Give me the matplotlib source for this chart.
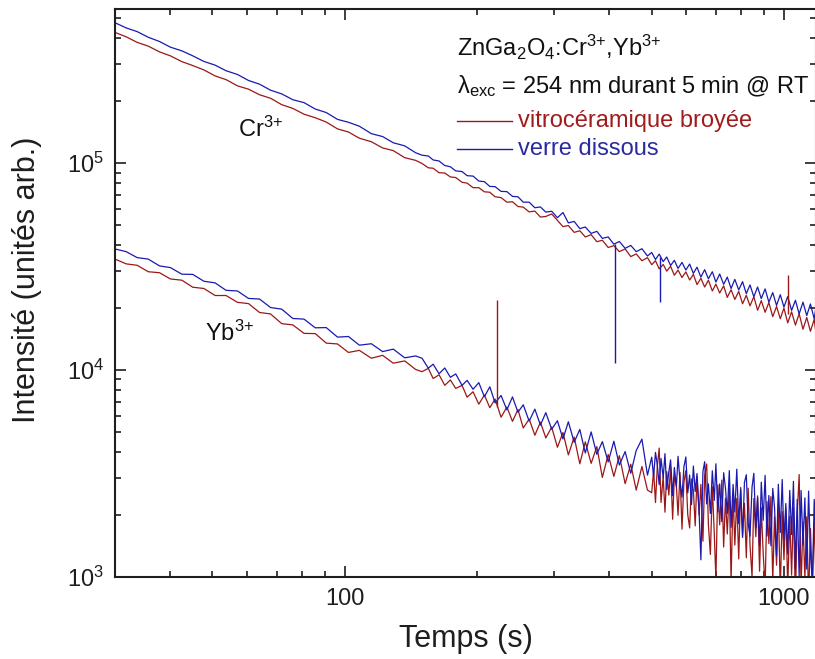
import numpy as np
import matplotlib
matplotlib.use("Agg")
import matplotlib.pyplot as plt
from matplotlib.ticker import FixedLocator, NullFormatter, LogLocator, LogFormatterMathtext

plt.rcParams['font.family'] = ['Liberation Sans', 'DejaVu Sans']
plt.rcParams['mathtext.fontset'] = 'custom'
plt.rcParams['mathtext.rm'] = 'Liberation Sans'
plt.rcParams['mathtext.it'] = 'Liberation Sans:italic'
plt.rcParams['mathtext.bf'] = 'Liberation Sans:bold'

# ---- data: time in s; intensity stored as log10 (arb. units) ----
time_early_s = [30, 31.8, 33.7, 35.7, 37.9, 40.1, 42.6, 45.1, 47.8, 50.7, 53.7, 57, 60.4, 64, 67.8, 71.9, 76.2,
                80.8, 85.7, 90.8, 96.3, 102, 108, 115, 122, 129, 137, 145,
                150, 155, 159, 164, 169, 174, 179, 185, 190, 196, 202, 208, 214, 220, 227, 234, 241, 248, 255,
                263, 271, 279, 287, 296, 305, 314, 323, 333, 343, 353, 364, 375, 386, 398, 410, 422, 435, 448,
                461, 475, 489]

time_late_cr_s = [500, 510, 520, 531, 541, 552, 563, 574, 586, 598, 610, 622, 634, 647, 660, 673, 687, 700, 714,
                  729, 743, 758, 773, 789, 805, 821, 837, 854, 871, 888, 906, 924, 943, 962, 981, 1000, 1020,
                  1041, 1062, 1083, 1105, 1127, 1149, 1172, 1183]

time_late_yb_s = [500, 505, 510, 515, 520, 525, 531, 536, 541, 547, 552, 558, 563, 569, 574, 580, 586, 592, 598,
                  604, 610, 616, 622, 628, 634, 641, 647, 654, 660, 667, 673, 680, 687, 694, 700, 707, 714, 722,
                  729, 736, 743, 751, 758, 766, 773, 781, 789, 797, 805, 813, 821, 829, 837, 846, 854, 863, 871,
                  880, 888, 897, 906, 915, 924, 934, 943, 952, 962, 971, 981, 991, 1000, 1010, 1020, 1031, 1041,
                  1051, 1062, 1072, 1083, 1094, 1105, 1116, 1127, 1138, 1149, 1161, 1172, 1183]

cr_red_log10 = [5.631, 5.610, 5.583, 5.565, 5.537, 5.518, 5.490, 5.471, 5.450, 5.421, 5.403, 5.373, 5.357, 5.330,
                5.313, 5.282, 5.264, 5.236, 5.219, 5.198, 5.165, 5.150, 5.120, 5.103, 5.073, 5.060, 5.026, 5.013,
                4.998, 4.977, 4.975, 4.953, 4.952, 4.933, 4.930, 4.907, 4.903, 4.881, 4.881, 4.861, 4.859, 4.837,
                4.833, 4.811, 4.813, 4.790, 4.787, 4.764, 4.768, 4.739, 4.742, 4.754, 4.723, 4.693, 4.698, 4.665,
                4.673, 4.643, 4.654, 4.620, 4.627, 4.592, 4.601, 4.572, 4.585, 4.548, 4.561, 4.528, 4.543,
                4.509, 4.528, 4.489, 4.510, 4.478, 4.501, 4.458, 4.483, 4.447, 4.474, 4.435, 4.462, 4.413, 4.443,
                4.401, 4.434, 4.382, 4.415, 4.372, 4.407, 4.351, 4.388, 4.341, 4.380, 4.320, 4.361, 4.310, 4.354,
                4.289, 4.335, 4.279, 4.326, 4.258, 4.307, 4.248, 4.299, 4.228, 4.281, 4.217, 4.272, 4.197, 4.254,
                4.187, 4.245, 4.178]

cr_blue_log10 = [5.678, 5.653, 5.635, 5.608, 5.587, 5.560, 5.542, 5.518, 5.491, 5.473, 5.446, 5.428, 5.399, 5.381,
                 5.352, 5.334, 5.306, 5.292, 5.261, 5.244, 5.211, 5.197, 5.178, 5.142, 5.128, 5.098, 5.083, 5.050,
                 5.038, 5.034, 5.015, 5.010, 4.988, 4.982, 4.962, 4.959, 4.939, 4.937, 4.913, 4.910, 4.887, 4.886,
                 4.863, 4.862, 4.839, 4.837, 4.811, 4.811, 4.784, 4.788, 4.763, 4.767, 4.736, 4.761, 4.711, 4.718,
                 4.683, 4.691, 4.660, 4.670, 4.636, 4.643, 4.608, 4.621, 4.588, 4.602, 4.572, 4.586, 4.551,
                 4.568, 4.534, 4.560, 4.524, 4.546, 4.505, 4.530, 4.491, 4.520, 4.483, 4.512, 4.467, 4.497, 4.449,
                 4.485, 4.441, 4.475, 4.425, 4.464, 4.414, 4.449, 4.394, 4.438, 4.387, 4.427, 4.369, 4.411, 4.354,
                 4.401, 4.345, 4.392, 4.328, 4.374, 4.312, 4.364, 4.304, 4.355, 4.288, 4.337, 4.271, 4.328, 4.263,
                 4.319, 4.247, 4.304]

yb_red_log10 = [4.536, 4.513, 4.506, 4.475, 4.470, 4.440, 4.434, 4.400, 4.394, 4.360, 4.360, 4.327, 4.321, 4.278,
                4.271, 4.224, 4.218, 4.177, 4.176, 4.130, 4.126, 4.085, 4.095, 4.057, 4.071, 4.033, 4.044, 4.003,
                3.992, 4.008, 3.959, 3.977, 3.926, 3.952, 3.911, 3.926, 3.869, 3.895, 3.835, 3.879, 3.818, 3.860,
                3.772, 3.821, 3.752, 3.809, 3.720, 3.763, 3.685, 3.748, 3.672, 3.724, 3.627, 3.698, 3.590, 3.676,
                3.547, 3.653, 3.549, 3.630, 3.481, 3.592, 3.486, 3.586, 3.451, 3.545, 3.420, 3.534, 3.420,
                3.407, 3.514, 3.360, 3.537, 3.623, 3.360, 3.486, 3.313, 3.509, 3.396, 3.532, 3.279, 3.485, 3.442,
                3.298, 3.505, 3.231, 3.458, 3.514, 3.301, 3.237, 3.474, 3.420, 3.247, 3.483, 3.300, 3.447, 3.173,
                3.490, 3.546, 3.253, 3.109, 3.436, 3.212, 2.989, 3.445, 3.252, 3.468, 3.145, 3.381, 3.208, 3.434,
                2.981, 3.407, 3.154, 3.380, 3.087, 3.433, 3.200, 3.356, 3.093, 3.429, 3.156, 3.002, 3.379, 3.195,
                3.392, 3.028, 3.335, 3.112, 2.948, 3.365, 3.161, 3.388, 2.984, 3.291, 3.057, 3.354, 2.930, 3.317,
                3.083, 3.330, 2.946, 3.293, 3.009, 3.336, 2.882, 3.299, 3.495, 2.952, 3.268, 2.995, 3.291, 2.888,
                3.234, 2.961, 3.267, 2.994]

yb_blue_log10 = [4.585, 4.572, 4.543, 4.536, 4.503, 4.495, 4.463, 4.462, 4.429, 4.421, 4.385, 4.382, 4.346, 4.343,
                 4.302, 4.294, 4.249, 4.246, 4.204, 4.205, 4.159, 4.162, 4.120, 4.127, 4.089, 4.101, 4.059, 4.068,
                 4.057, 4.009, 4.028, 3.982, 4.010, 3.965, 3.981, 3.926, 3.950, 3.907, 3.939, 3.871, 3.919, 3.841,
                 3.877, 3.808, 3.870, 3.796, 3.832, 3.753, 3.811, 3.734, 3.794, 3.714, 3.755, 3.667, 3.750, 3.651,
                 3.713, 3.599, 3.701, 3.593, 3.654, 3.556, 3.656, 3.541, 3.606, 3.501, 3.611, 3.666, 3.492,
                 3.579, 3.486, 3.602, 3.539, 3.446, 3.573, 3.479, 3.596, 3.423, 3.509, 3.566, 3.393, 3.529, 3.436,
                 3.583, 3.460, 3.386, 3.533, 3.580, 3.406, 3.493, 3.350, 3.536, 3.413, 3.500, 3.317, 3.083, 3.510,
                 3.557, 3.353, 3.450, 3.307, 3.513, 3.370, 3.547, 3.314, 3.450, 3.267, 3.504, 3.430, 3.307, 3.514,
                 3.240, 3.447, 3.314, 3.521, 3.257, 3.424, 3.191, 3.457, 3.494, 3.261, 3.197, 3.434, 3.501, 3.238,
                 3.384, 3.151, 3.458, 3.274, 3.491, 3.198, 3.394, 3.151, 3.428, 3.335, 3.101, 3.448, 3.215, 3.471,
                 3.178, 3.355, 3.111, 3.418, 3.205, 3.462, 3.038, 3.375, 3.002, 3.418, 3.155, 3.382, 3.038, 3.415,
                 3.112, 2.969, 3.375, 3.162]

# single-sample glitches
red_spike_time = [222, 1021]
red_spike_low_log10 = [3.82, 4.27]
red_spike_high_log10 = [4.338, 4.459]
blue_spike_time = [412, 522]
blue_spike_low_log10 = [4.034, 4.329]
blue_spike_high_log10 = [4.61, 4.546]

x_major_ticks = [100, 1000]
x_major_labels = ["100", "1000"]

RED = '#9c1717'
BLUE = '#1a1ab0'
INK = '#1e1e1e'

W, H = 815, 659
fig = plt.figure(figsize=(W / 100, H / 100), dpi=100)
ax = fig.add_axes([115 / W, 1 - 577 / H, (816 - 115) / W, (577 - 9) / H])

t_cr = np.asarray(time_early_s + time_late_cr_s)
t_yb = np.asarray(time_early_s + time_late_yb_s)
ax.plot(t_cr, 10.0 ** np.asarray(cr_red_log10), color=RED, lw=0.9)
ax.plot(t_yb, 10.0 ** np.asarray(yb_red_log10), color=RED, lw=0.9)
ax.plot(t_cr, 10.0 ** np.asarray(cr_blue_log10), color=BLUE, lw=0.9)
ax.plot(t_yb, 10.0 ** np.asarray(yb_blue_log10), color=BLUE, lw=0.9)
ax.vlines(blue_spike_time, 10.0 ** np.asarray(blue_spike_low_log10), 10.0 ** np.asarray(blue_spike_high_log10),
          color=BLUE, lw=1.0)
ax.vlines(red_spike_time, 10.0 ** np.asarray(red_spike_low_log10), 10.0 ** np.asarray(red_spike_high_log10),
          color=RED, lw=1.0)

ax.set_xscale('log')
ax.set_yscale('log')
ax.set_xlim(30, 1183)
ax.set_ylim(1e3, 5.55e5)

ax.xaxis.set_major_locator(FixedLocator(x_major_ticks))
ax.set_xticklabels(x_major_labels)
ax.xaxis.set_minor_locator(LogLocator(base=10, subs=np.arange(2, 10)))
ax.xaxis.set_minor_formatter(NullFormatter())
ax.yaxis.set_major_locator(LogLocator(base=10, numticks=10))
ax.yaxis.set_major_formatter(LogFormatterMathtext())
ax.yaxis.set_minor_locator(LogLocator(base=10, subs=np.arange(2, 10), numticks=20))
ax.yaxis.set_minor_formatter(NullFormatter())

ax.tick_params(which='both', direction='in', top=True, right=True, width=1.2, colors=INK)
ax.tick_params(which='major', length=8, labelsize=17, pad=8)
ax.tick_params(which='minor', length=4.5)
for sp in ax.spines.values():
    sp.set_linewidth(1.5)
    sp.set_color(INK)

ax.set_xlabel('Temps (s)', fontsize=22, labelpad=10, color=INK)
ax.set_ylabel('Intensité (unités arb.)', fontsize=22, color=INK)
ax.yaxis.set_label_coords(-0.104, (577 - 280) / (577 - 9))


def fx(px):
    return px / W


def fy(py):
    return 1 - py / H


fs = 17
fig.text(fx(457), fy(47), r'ZnGa$_2$O$_4$:Cr$^{3{+}}$,Yb$^{3{+}}$', fontsize=fs, va='center', ha='left',
         color='#111111')
fig.text(fx(457), fy(86), r'λ$_{\mathrm{exc}}$ = 254 nm durant 5 min @ RT', fontsize=fs, va='center',
         ha='left', color='#111111')
fig.add_artist(plt.Line2D([fx(457), fx(512)], [fy(121), fy(121)], color=RED, lw=1.0))
fig.text(fx(518), fy(121), 'vitrocéramique broyée', fontsize=fs, va='center', ha='left', color='#a01c1c')
fig.add_artist(plt.Line2D([fx(457), fx(512)], [fy(149), fy(149)], color=BLUE, lw=1.0))
fig.text(fx(518), fy(149), 'verre dissous', fontsize=fs, va='center', ha='left', color='#2a2aa0')
fig.text(fx(238), fy(129), r'Cr$^{3{+}}$', fontsize=fs, va='center', ha='left', color='#111111')
fig.text(fx(205), fy(333), r'Yb$^{3{+}}$', fontsize=fs, va='center', ha='left', color='#111111')

fig.savefig('out.png', dpi=100)
